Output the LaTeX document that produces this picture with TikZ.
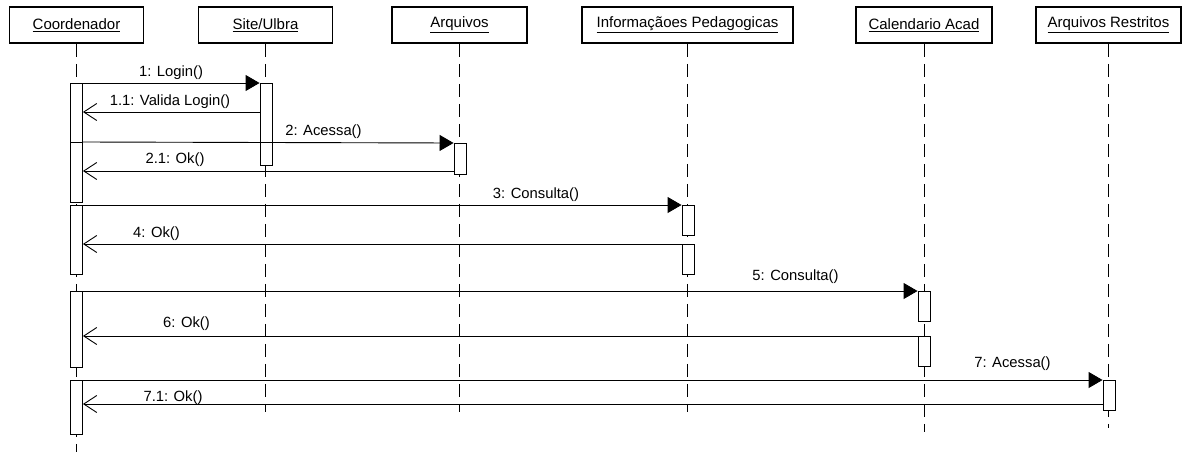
\documentclass[tikz,border=0pt]{standalone}
\usepackage{fontspec}
\setmainfont{Liberation Sans}
\usetikzlibrary{arrows.meta}
\begin{document}
\begin{tikzpicture}[x=1pt,y=-1pt,
  hdr/.style={draw, line width=1.8pt, minimum height=36pt, inner sep=0pt, font=\fontsize{15}{16}\selectfont},
  act/.style={draw, fill=white, line width=0.9pt, minimum width=12pt, inner sep=0pt, anchor=north},
  life/.style={line width=0.9pt, dash pattern=on 13pt off 7pt},
  call/.style={line width=0.9pt, -{Triangle[length=14pt,width=16pt]}},
  ret/.style={line width=0.9pt, -{Straight Barb[length=13pt,width=17pt,line width=0.9pt]}},
  lbl/.style={inner sep=0pt, font=\fontsize{14.8}{16}\selectfont}]
\useasboundingbox[fill=white] (0,0) rectangle (1184,453);
% headers
\node[hdr, minimum width=134pt] (hC) at (76.5,25) {\underline{Coordenador}};
\node[hdr, minimum width=134pt] (hS) at (265.5,25) {\underline{Site/Ulbra}};
\node[hdr, minimum width=135pt] (hA) at (459.5,25) {\underline{Arquivos}};
\node[hdr, minimum width=211pt] (hI) at (687.5,25) {\underline{Informaçãoes Pedagogicas}};
\node[hdr, minimum width=136pt] (hK) at (924,25) {\underline{Calendario Acad}};
\node[hdr, minimum width=145pt] (hR) at (1108.5,25) {\underline{Arquivos Restritos}};
% lifeline ends
\coordinate (eC) at (0,452);
\coordinate (eS) at (0,412);
\coordinate (eA) at (0,412);
\coordinate (eI) at (0,412);
\coordinate (eK) at (0,432);
\coordinate (eR) at (0,428);
\draw[life] (hC.south) -- (hC.south |- eC);
\draw[life] (hS.south) -- (hS.south |- eS);
\draw[life] (hA.south) -- (hA.south |- eA);
\draw[life] (hI.south) -- (hI.south |- eI);
\draw[life] (hK.south) -- (hK.south |- eK);
\draw[life] (hR.south) -- (hR.south |- eR);
% activations
\node[act, minimum height=59pt] (cA1) at (76.5,83) {};
\node[act, minimum height=60pt] (cA2) at (76.5,142) {};
\node[act, minimum height=69pt] (cA3) at (76.5,205) {};
\node[act, minimum height=76pt] (cA4) at (76.5,291) {};
\node[act, minimum height=54pt] (cA5) at (76.5,380) {};
\node[act, minimum height=82pt] (sA) at (266,83) {};
\node[act, minimum height=31pt] (aA) at (460,143) {};
\node[act, minimum height=30pt] (iA1) at (688,205) {};
\node[act, minimum height=30pt] (iA2) at (688,244) {};
\node[act, minimum height=30pt] (kA1) at (924,291) {};
\node[act, minimum height=30pt] (kA2) at (924,336) {};
\node[act, minimum height=30pt] (rA) at (1109,380) {};
% message rows
\coordinate (y11) at (0,112);
\coordinate (y21) at (0,171);
\coordinate (y71) at (0,404);
% messages
\draw[call] (cA1.north east) -- (sA.north west);
\draw[ret] (sA.west |- y11) -- (cA1.east |- y11);
\draw[call] (cA2.north east) -- (aA.north west);
\draw[ret] (aA.west |- y21) -- (cA2.east |- y21);
\draw[call] (cA3.north east) -- (iA1.north west);
\draw[ret] (iA2.north west) -- (cA3.east |- iA2.north);
\draw[call] (cA4.north east) -- (kA1.north west);
\draw[ret] (kA2.north west) -- (cA4.east |- kA2.north);
\draw[call] (cA5.north east) -- (rA.north west);
\draw[ret] (rA.west |- y71) -- (cA5.east |- y71);
% labels
\node[lbl] (l1) at (171,73) {1: Login()};
\node[lbl] (l11) at (170,101.5) {1.1: Valida Login()};
\node[lbl] (l2) at (323.5,132) {2: Acessa()};
\node[lbl] (l21) at (175,160) {2.1: Ok()};
\node[lbl] (l3) at (536,195) {3: Consulta()};
\node[lbl] (l4) at (156.5,234) {4: Ok()};
\node[lbl] (l5) at (795.5,277) {5: Consulta()};
\node[lbl] (l6) at (186.5,324) {6: Ok()};
\node[lbl] (l7) at (1012.5,364) {7: Acessa()};
\node[lbl] (l71) at (173,397.5) {7.1: Ok()};
\end{tikzpicture}
\end{document}
